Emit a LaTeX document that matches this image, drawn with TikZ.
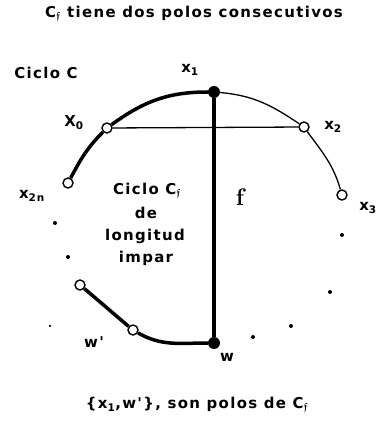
\documentclass[tikz,border=0pt]{standalone}
\usepackage{fontspec}
\usepackage{amssymb}
\usepackage{bm}
\newfontfamily\lab[LetterSpace=9]{DejaVu Sans}
\newcommand{\cfsub}{C\textsubscript{$\bm{\mathfrak{f}}$}}
\begin{document}
\begin{tikzpicture}[x=1bp,y=1bp,
  txt/.style={font={\lab\bfseries\fontsize{15}{18}\selectfont}, inner sep=0pt, align=center},
  opencirc/.style={circle, draw, line width=1.4bp, fill=white, minimum size=10bp, inner sep=0pt},
  blackdot/.style={circle, fill, minimum size=12bp, inner sep=0pt},
  smalldot/.style={circle, fill, minimum size=4bp, inner sep=0pt},
  thickline/.style={line width=3.5bp},
  thinline/.style={line width=1.3bp}]
\useasboundingbox (0,0) rectangle (379,423);
% texts
\node[txt] (title) at (194,409) {\cfsub{} tiene dos polos consecutivos};
\node[txt] (cicloc) at (46,350) {Ciclo C};
\node[txt] (lx1) at (190,353) {x\textsubscript{1}};
\node[txt] (lx0) at (74,300) {X\textsubscript{0}};
\node[txt] (lx2) at (333,296) {x\textsubscript{2}};
\node[txt] (lx2n) at (32,227) {x\textsubscript{2n}};
\node[txt] (lx3) at (368,215) {x\textsubscript{3}};
\node[txt] (ciclocf) at (147,232) {Ciclo \cfsub};
\node[txt] (de) at (146,210) {de};
\node[txt] (longitud) at (145,187) {longitud};
\node[txt] (impar) at (146,165) {impar};
\node[inner sep=0pt, font={\rmfamily\bfseries\fontsize{24}{28}\selectfont}] (lf) at (240,226) {f};
\node[txt] (lwp) at (94,81) {w'};
\node[txt] (lw) at (227,66) {w};
\node[txt] (bottom) at (197,18) {\{x\textsubscript{1},w'\}, son polos de \cfsub};
% vertices
\node[blackdot] (x1) at (214,331) {};
\node[opencirc] (x0) at (107,295) {};
\node[opencirc] (x2) at (304,296) {};
\node[opencirc] (x2n) at (68,240) {};
\node[opencirc] (x3) at (342,228) {};
\node[opencirc] (u) at (80,138) {};
\node[opencirc] (wp) at (133,93) {};
\node[blackdot] (w) at (214,80) {};
% small dots
\node[smalldot] (d1) at (55,200) {};
\node[smalldot] (d2) at (68,166) {};
\node[smalldot, minimum size=2.5bp] (d3) at (50,97) {};
\node[smalldot] (d4) at (342,188) {};
\node[smalldot] (d5) at (330,131) {};
\node[smalldot] (d6) at (291,97) {};
\node[smalldot] (d7) at (253,86) {};
% edges
\draw[thickline] (x2n) to[out=62, in=225] (x0);
\draw[thickline] (x0) to[out=36, in=180] (x1);
\draw[thinline] (x1) to[out=-5, in=146] (x2);
\draw[thinline] (x2) to[out=-54, in=106] (x3);
\draw[thinline] (x0) -- (x2);
\draw[thickline] (x1) -- (w);
\draw[thickline] (u) to[out=-40, in=140] (wp);
\draw[thickline] (wp) to[out=-30, in=180] (w);
\end{tikzpicture}
\end{document}
